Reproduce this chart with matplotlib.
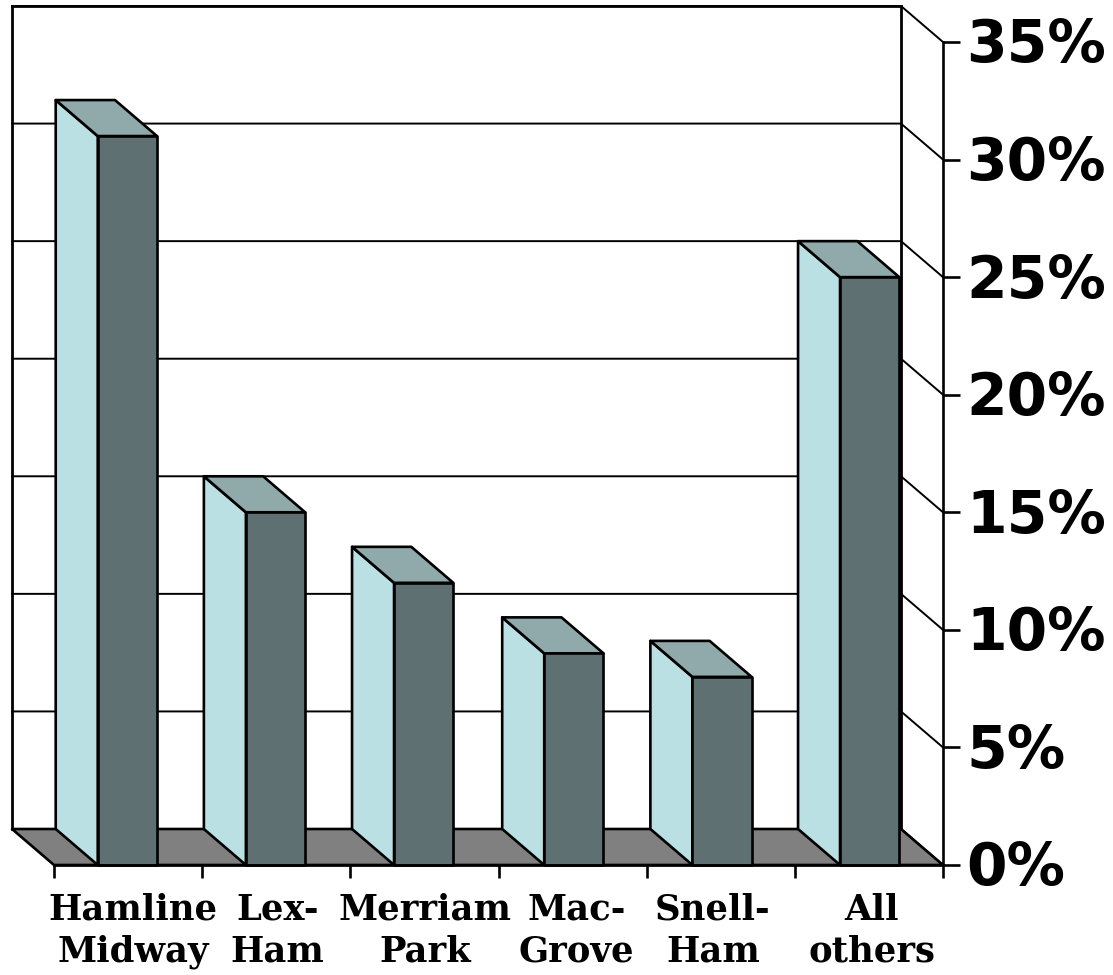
import matplotlib
matplotlib.use("Agg")
import matplotlib.pyplot as plt
from matplotlib.patches import Polygon
from matplotlib.transforms import ScaledTranslation

categories = ["Hamline\nMidway", "Lex-\nHam", "Merriam\nPark", "Mac-\nGrove", "Snell-\nHam", "All\nothers"]
values = [31, 15, 12, 9, 8, 25]
y_ticks = [0, 5, 10, 15, 20, 25, 30, 35]
y_labels = ["0%", "5%", "10%", "15%", "20%", "25%", "30%", "35%"]

W, H = 1113, 975
L, R, B, T = 54, 943, 865, 42
fig = plt.figure(figsize=(W / 100, H / 100), dpi=100)
ax = fig.add_axes([L / W, 1 - B / H, (R - L) / W, (B - T) / H])
ax.set_xlim(0, len(categories))
ax.set_ylim(0, 35)

# depth of the oblique projection, in data units
px_x = (R - L) / 6
dx = -42 / px_x
dy = 36 / ((B - T) / 35)
# bar front face extent inside a category
f0, f1 = 0.295, 0.695
# small layout nudges (pixels) seen in the reference
bar_nudge = [0, 0, 0, 2, 2, 1.5]
label_nudge = [5, 1, 1, 4, -8, 3]

edge = dict(edgecolor="black", linewidth=1.9, joinstyle="round", clip_on=False)

# floor
ax.add_patch(Polygon([(0, 0), (6, 0), (6 + dx, dy), (dx, dy)], facecolor="#808080", zorder=1, **edge))

# back wall gridlines and right wall diagonals
for t in y_ticks:
    ax.plot([dx, 6 + dx, 6], [t + dy, t + dy, t], color="black", lw=1.4, clip_on=False, zorder=2, solid_joinstyle="round")
for xs, ys in (([dx, dx], [dy, 35 + dy]), ([6 + dx, 6 + dx], [dy, 35 + dy]), ([dx, 6 + dx], [35 + dy, 35 + dy])):
    ax.plot(xs, ys, color="black", lw=2.0, clip_on=False, zorder=2, solid_capstyle="projecting")

# bars
for i, v in enumerate(values):
    a, b = i + f0 + bar_nudge[i] / px_x, i + f1 + bar_nudge[i] / px_x
    ax.add_patch(Polygon([(a, 0), (a, v), (a + dx, v + dy), (a + dx, dy)], facecolor="#BAE0E3", zorder=3, **edge))
    ax.add_patch(Polygon([(a, v), (b, v), (b + dx, v + dy), (a + dx, v + dy)], facecolor="#90A9AB", zorder=3, **edge))
    ax.add_patch(Polygon([(a, 0), (b, 0), (b, v), (a, v)], facecolor="#5F7073", zorder=4, **edge))

for s in ("top", "left"):
    ax.spines[s].set_visible(False)
for s in ("bottom", "right"):
    ax.spines[s].set_linewidth(1.9)
    ax.spines[s].set_zorder(5)
ax.patch.set_visible(False)

ax.yaxis.tick_right()
ax.set_yticks(y_ticks)
ax.set_yticklabels(y_labels, family="DejaVu Sans", fontweight="bold", fontsize=42)
ax.tick_params(axis="y", length=12, width=1.9, pad=5)
for lab in ax.get_yticklabels():
    lab.set_transform(lab.get_transform() + ScaledTranslation(0, 2 / 100, fig.dpi_scale_trans))

ax.set_xticks(range(len(categories) + 1))
ax.set_xticklabels([])
ax.tick_params(axis="x", which="major", length=9, width=1.9)
ax.set_xticks([i + 0.5 for i in range(len(categories))], minor=True)
ax.set_xticklabels(categories, minor=True, family="DejaVu Serif", fontweight="bold",
                   fontsize=25.5, linespacing=1.3)
ax.tick_params(axis="x", which="minor", length=0, pad=20)
for lab, n in zip(ax.get_xticklabels(minor=True), label_nudge):
    lab.set_transform(lab.get_transform() + ScaledTranslation(n / 100, 0, fig.dpi_scale_trans))

fig.savefig("out.png", dpi=100, facecolor="white")
